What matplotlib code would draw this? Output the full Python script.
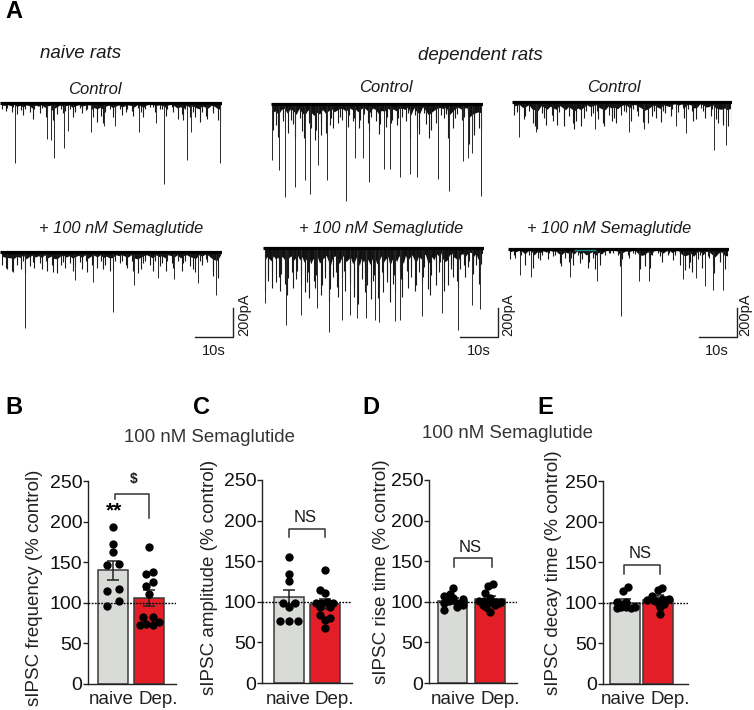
import matplotlib
matplotlib.use("Agg")
import matplotlib.pyplot as plt
import numpy as np

plt.rcParams['font.family'] = ['Liberation Sans', 'DejaVu Sans']
W, H = 754, 710
DPI = 100
fig = plt.figure(figsize=(W / DPI, H / DPI), dpi=DPI)

def px_axes(x0, y0, x1, y1, **kw):
    return fig.add_axes([x0 / W, 1 - y1 / H, (x1 - x0) / W, (y1 - y0) / H], **kw)

# ---------- traces: time (s), downward peak amplitude (pA) ----------
t1_peak_t = [3.9, 12.6, 13.5, 14.3, 17.2, 18.1, 24.4, 27.7, 30.8, 37.1, 41.5, 43.6, 49.9, 51.0, 58.7]
t1_peak_a = [420, 250, 257, 385, 315, 198, 203, 163, 163, 205, 140, 567, 401, 205, 420]
t1_env = [40, 55, 35, 60, 30, 75, 50, 85, 40, 60, 110, 45, 70, 35, 95, 60, 50, 120, 80, 45, 70, 55, 40, 95, 60, 35,
          70, 50, 40, 45, 100, 130, 90, 140, 60, 45, 100, 70, 40, 85, 60, 40, 55, 90, 35, 60, 95, 40, 30, 25, 60, 40,
          45, 90, 40, 30, 60, 110, 80, 120, 45, 95, 60, 100, 130, 60, 90, 110, 50, 70, 120, 140]
t2_peak_t = [0.3, 2.0, 3.6, 6.5, 9.0, 10.5, 12.6, 14.9, 20.1, 22.3, 24.4, 26.0, 30.1, 31.6, 34.3, 37.0, 38.8,
             44.4, 47.5, 51.2, 52.5, 53.6, 56.0]
t2_peak_a = [392, 462, 649, 579, 532, 632, 427, 532, 680, 380, 380, 548, 455, 455, 508, 492, 513, 524, 608, 398, 380, 345, 643]
t2_env = [180, 150, 230, 120, 90, 200, 110, 140, 230, 100, 190, 240, 130, 170, 250, 180, 220, 120, 200, 150, 100, 170,
          130, 90, 110, 160, 80, 120, 100, 170, 110, 70, 130, 190, 90, 120, 210, 140, 160, 90, 130, 110, 150, 100, 90,
          120, 60, 240, 80, 170, 210, 60, 140, 240, 180, 130, 90, 80, 100, 70, 240, 170, 100, 70, 110, 90, 80, 280,
          220, 190, 170, 200]
t3_peak_t = [1.8, 6.5, 22.2, 31.3, 35.3, 43.7, 46.5, 53.9, 57.1]
t3_peak_a = [245, 212, 189, 212, 189, 165, 217, 338, 298]
t3_env = [90, 70, 60, 120, 100, 60, 150, 170, 190, 80, 110, 160, 90, 130, 160, 70, 120, 170, 100, 150, 190, 130, 170,
          110, 60, 100, 80, 60, 120, 150, 170, 90, 130, 110, 150, 90, 60, 70, 130, 50, 60, 100, 140, 180, 150, 100, 60,
          110, 140, 60, 80, 100, 50, 40, 70, 40, 110, 50, 60, 130, 120, 40, 60, 110, 100, 50, 120, 150, 160, 130, 170, 140]
t4_peak_t = [6.6, 20.0, 24.8, 30.2, 35.6, 42.2, 46.5, 52.8, 57.6]
t4_peak_a = [532, 193, 210, 420, 228, 182, 191, 214, 298]
t4_env = [90, 110, 120, 130, 140, 90, 120, 60, 150, 100, 70, 110, 80, 120, 60, 130, 90, 140, 150, 90, 70, 110, 80, 130,
          100, 70, 120, 60, 140, 90, 70, 110, 60, 120, 90, 130, 120, 60, 80, 60, 90, 110, 60, 130, 150, 120, 80, 60, 90,
          130, 60, 100, 80, 130, 60, 80, 110, 60, 130, 80, 60, 100, 120, 140, 60, 90, 50, 70, 130, 170, 180, 60]
t5_peak_t = [0.6, 6.1, 10.0, 14.4, 17.6, 21.1, 23.1, 25.1, 27.4, 29.8, 30.8, 35.2, 36.5, 42.3, 47.6, 52.1, 55.6, 57.9]
t5_peak_a = [385, 536, 466, 420, 587, 506, 466, 490, 490, 501, 517, 513, 501, 478, 455, 576, 396, 424]
t5_env = [300, 190, 230, 280, 170, 240, 200, 300, 180, 250, 330, 210, 170, 280, 220, 160, 260, 190, 310, 240, 170, 350,
          230, 280, 190, 330, 260, 210, 160, 290, 370, 200, 170, 270, 340, 210, 160, 300, 250, 190, 340, 280, 170, 390,
          220, 310, 180, 260, 360, 230, 190, 350, 280, 170, 310, 240, 180, 380, 250, 190, 300, 170, 220, 340, 160, 280,
          200, 150, 260, 300, 170, 240, 200, 130, 290, 330, 190, 260, 120, 170, 100, 240, 300, 260, 150, 110, 200, 230,
          280, 150, 120, 200, 130, 90, 100, 180, 120, 250, 150, 110]
t6_peak_t = [3.3, 6.0, 16.6, 23.8, 30.0, 34.8, 37.7, 46.7, 50.1, 52.6, 54.6, 57.3, 58.8]
t6_peak_a = [180, 196, 196, 226, 470, 226, 226, 210, 203, 256, 284, 284, 150]
t6_env = [70, 40, 60, 30, 45, 110, 40, 30, 130, 60, 80, 40, 70, 30, 50, 40, 100, 120, 60, 90, 60, 110, 40, 100, 70, 130,
          90, 60, 140, 70, 110, 40, 30, 25, 30, 40, 120, 70, 40, 60, 30, 35, 110, 140, 120, 60, 130, 40, 30, 50, 90, 40,
          30, 80, 40, 35, 110, 150, 130, 90, 160, 70, 40, 130, 50, 60, 120, 170, 90, 60, 140, 150]
# hand-set shift (s) of the small events, so they do not fall on an even comb
event_shift = [0.0, 0.25, -0.2, 0.35, -0.3, 0.1, 0.3, -0.1, -0.35, 0.2, 0.05, -0.25, 0.4]

traces = [
    (0, 222, 103, t1_peak_t, t1_peak_a, t1_env),
    (271, 483, 104, t2_peak_t, t2_peak_a, t2_env),
    (512, 732, 102, t3_peak_t, t3_peak_a, t3_env),
    (0, 222, 252, t4_peak_t, t4_peak_a, t4_env),
    (263, 484, 248, t5_peak_t, t5_peak_a, t5_env),
    (508, 729, 249, t6_peak_t, t6_peak_a, t6_env),
]
PX_PER_S = 3.75
PX_PER_PA = 1 / 7
for x0, x1, base, pt, pa, env in traces:
    ax = px_axes(x0, base - 8, x1, base + 102)
    ax.axis('off')
    dur = (x1 - x0) / PX_PER_S
    ax.set_xlim(0, dur)
    ax.set_ylim(-102 / PX_PER_PA, 8 / PX_PER_PA)
    te = np.linspace(0.4, dur - 0.4, len(env))
    ev = np.array(env)
    ax.fill_between(te, 0, -0.32 * ev, color='#111111', lw=0)
    ax.vlines(te + np.resize(event_shift, len(env)), 0, -ev, color='#1a1a1a', lw=0.8)
    ax.vlines(pt, 0, -np.array(pa), color='#2a2a2a', lw=0.7)
    ax.hlines(0, 0, dur, color='black', lw=2.3)
    if x0 == 508:
        ax.hlines(-8, 17.7, 23.5, color='#1f8a8a', lw=1.0, zorder=5)

# ---------- bar panels ----------
categories = ['naive', 'Dep.']

b_means = [140, 106]
b_errs = [11.5, 9.5]
b_naive_x = [0, 0, 0, -.17, .18, -.17, .18, .18, -.17]
b_naive_y = [193, 173, 163, 146, 148, 114, 117, 102, 96]
b_dep_x = [0, -.08, .1, -.08, .1, 0, -.17, .1, -.25, -.08, .1, .28]
b_dep_y = [169, 135, 138, 121, 126, 111, 83, 83, 73, 74, 73, 76]

c_means = [106, 97]
c_errs = [9, 6]
c_naive_x = [0, 0, 0, -.18, .18, 0, -.25, 0, .25]
c_naive_y = [155, 134, 126, 98, 98, 94, 76, 76, 76]
c_dep_x = [0, -.15, 0, -.24, -.1, .05, .22, -.15, .13, -.15, .13, 0, 0]
c_dep_y = [139, 115, 111, 98, 99, 100, 98, 94, 94, 84, 80, 78, 68]

d_means = [101, 103]
d_errs = [4, 4]
d_naive_x = [.02, -.24, -.07, .02, .29, -.24, .13, .29, -.24, -.1, .13, .29]
d_naive_y = [117, 107, 109, 105, 103, 98, 98, 96, 90, 101, 94, 100]
d_dep_x = [.08, -.05, -.14, 0, -.3, -.15, 0, .15, .3, -.2, -.12, .12, 0, .25]
d_dep_y = [122, 119, 111, 105, 101, 101, 100, 100, 100, 96, 93, 96, 87, 98]

e_means = [100, 104]
e_errs = [5, 6]
e_naive_x = [.08, -.05, -.25, -.12, .02, -.25, -.12, .02, .18, .3]
e_naive_y = [119, 115, 101, 99, 101, 93, 95, 95, 93, 95]
e_dep_x = [.12, 0, -.18, -.33, .32, .12, -.03, .17, .07, .05, -.13, .25]
e_dep_y = [118, 116, 108, 103, 105, 105, 101, 99, 95, 86, 103, 103]

panels = [
    (88, 176, 481, 684, 113, 149, b_means, b_errs, b_naive_x, b_naive_y, b_dep_x, b_dep_y),
    (262, 352, 480, 683, 289, 325, c_means, c_errs, c_naive_x, c_naive_y, c_dep_x, c_dep_y),
    (429, 517, 480, 683, 452.5, 490, d_means, d_errs, d_naive_x, d_naive_y, d_dep_x, d_dep_y),
    (603, 688, 481, 684, 625, 658, e_means, e_errs, e_naive_x, e_naive_y, e_dep_x, e_dep_y),
]
# bracket: left x, right x, top, left end, right end (data units of each panel)
brackets = [
    (0.05, 1.0, 234, 228, 204),
    (0.0, 1.0, 190, 180, 180),
    (0.05, 1.05, 154, 143, 143),
    (-0.03, 1.05, 146, 135, 135),
]
for p, br in zip(panels, brackets):
    x0, x1, ytop, ybot, c0, c1, means, errs, nx, ny, dx, dy = p
    ax = px_axes(x0, ytop, x1, ybot)
    ax.patch.set_alpha(0)
    sp = c1 - c0
    ax.set_xlim((x0 - c0) / sp, (x1 - c0) / sp)
    ax.set_ylim(0, 250)
    w = 29.5 / sp
    ax.bar([0, 1], means, width=w, color=['#d9dbd8', '#e31e26'], edgecolor='#3a3a3a', linewidth=1.1, zorder=1)
    ax.errorbar([0, 1], means, yerr=errs, fmt='none', ecolor='#222222', elinewidth=1.1, capsize=4.5, capthick=1.1, zorder=2)
    ax.plot([ax.get_xlim()[0], ax.get_xlim()[1]], [100, 100], color='black', lw=1.0, ls=(0, (1.3, 1)), zorder=3)
    ax.scatter(nx, ny, s=36, color='black', zorder=4, clip_on=False, linewidths=0)
    ax.scatter(1 + np.array(dx), dy, s=36, color='black', zorder=4, clip_on=False, linewidths=0)
    lx, rx, top, le, re = br
    ax.plot([lx, lx, rx, rx], [le, top, top, re], color='#333333', lw=1.1, clip_on=False, zorder=3)
    for s in ('top', 'right'):
        ax.spines[s].set_visible(False)
    for s in ('left', 'bottom'):
        ax.spines[s].set_linewidth(1.0)
        ax.spines[s].set_color('#222222')
    ax.set_yticks([0, 50, 100, 150, 200, 250])
    ax.tick_params(axis='y', labelsize=14, length=3.5, width=1.0, pad=0.5, color='#222222', labelcolor='#111111')
    ax.set_xticks([])

# ---------- overlay for text and scale bars ----------
ov = fig.add_axes([0, 0, 1, 1], zorder=10)
ov.axis('off')
ov.set_xlim(0, W)
ov.set_ylim(H, 0)

def T(x, y, s, size, **kw):
    kw.setdefault('ha', 'center')
    kw.setdefault('va', 'center')
    kw.setdefault('color', '#1a1a1a')
    ov.text(x, y, s, fontsize=size, **kw)

for x, y, s in [(14, 11, 'A'), (14, 407, 'B'), (201, 407, 'C'), (371, 407, 'D'), (545, 407, 'E')]:
    T(x, y, s, 17, fontweight='black', color='black')

T(81, 54, 'naive rats', 13.5, style='italic')
T(480, 55, 'dependent rats', 13.5, style='italic')
for x, y in [(95, 90), (386, 88), (614, 88)]:
    T(x, y, 'Control', 12, style='italic')
for x, y in [(121, 228), (381, 228), (609, 228)]:
    T(x, y, '+ 100 nM Semaglutide', 11.8, style='italic')

for bx0, bx1, tx200, tx10 in [(195, 233, 244, 214), (460, 498, 508, 479), (699, 737, 745, 717)]:
    ov.plot([bx0, bx1, bx1], [337, 337, 308], color='#222222', lw=1.0)
    T(tx200, 315, '200pA', 10.5, rotation=90)
    T(tx10, 351, '10s', 10.5)

T(209, 437, '100 nM Semaglutide', 13.4, color='#333333')
T(507, 434, '100 nM Semaglutide', 13.4, color='#333333')

for x, y, s in [(35, 588, 'sIPSC frequency (% control)'), (210, 577, 'sIPSC amplitude (% control)'),
                (382, 572, 'sIPSC rise time (% control)'), (554, 573, 'sIPSC decay time (% control)')]:
    T(x, y, s, 13.5, rotation=90, color='#222222')

for xn, xd in [(111, 158), (288, 334), (453, 500), (623, 670)]:
    T(xn, 700, categories[0], 13.5, color='#222222')
    T(xd, 700, categories[1], 13.5, color='#222222')

T(114, 511, '**', 15, fontweight='bold', color='black')
T(134, 479, '$', 10, fontweight='bold')
T(305, 517, 'NS', 12)
T(470, 547, 'NS', 12)
T(640, 554, 'NS', 12)

fig.savefig('out.png', dpi=DPI)
